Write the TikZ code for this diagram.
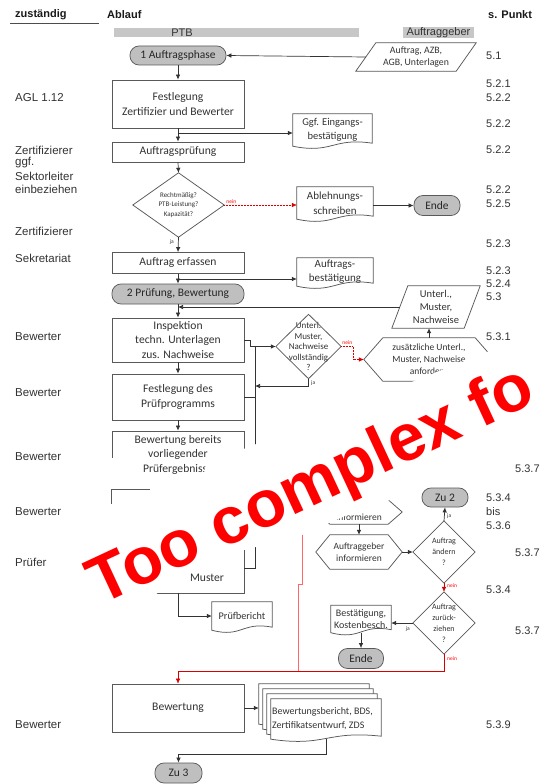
\documentclass[tikz,border=0pt]{standalone}
\usepackage{fontspec}
\setmainfont{Carlito}
\newfontfamily\arialf{Liberation Sans}
\usetikzlibrary{arrows.meta,calc}
\newcommand\fsz[2]{\fontsize{#1}{#2}\selectfont}
\newcommand\docshape[2][]{\draw[shpo,#1] (#2.south west) -- (#2.north west) -- (#2.north east) -- ([yshift=3pt]#2.south east) .. controls ([yshift=9pt]#2.south) and ([yshift=-8pt]#2.south) .. (#2.south west) -- cycle;}
\newcommand\paral[2]{\draw[shpo] (#1.south west) -- ([xshift=-#2]#1.south east) -- (#1.north east) -- ([xshift=#2]#1.north west) -- cycle;}
\newcommand\hexa[2]{\draw[shpo] (#1.north west) -- (#1.north east) -- ([xshift=#2]#1.east) -- (#1.south east) -- (#1.south west) -- ([xshift=-#2]#1.west) -- cycle;}
\newcommand\diam[1]{\draw[shpo] (#1.north) -- (#1.east) -- (#1.south) -- (#1.west) -- cycle;}
\tikzset{
 shpo/.style={draw=black!65, line width=0.75pt},
 boxn/.style={draw=black!65, line width=0.75pt, rectangle, minimum width=132pt, align=center, inner sep=1pt, font=\fsz{11.6}{14.5}, text=black!80},
 body/.style={rectangle, draw=none, align=center, inner sep=0pt, text=black!80},
 term/.style={draw=black!65, line width=0.75pt, fill=black!25, rounded corners=9pt, inner sep=0pt, font=\fsz{11.5}{13}, text=black!85},
 ln/.style={draw=black!80, line width=0.7pt},
 arr/.style={ln, -{Latex[length=5pt,width=4.5pt]}},
 redarr/.style={draw=red!85!black, line width=0.5pt, densely dotted, -{Latex[length=5pt,width=4.5pt]}},
 redsol/.style={draw=red!85!black, line width=0.5pt, -{Latex[length=5pt,width=4.5pt]}},
 redln/.style={draw=red!60, line width=0.5pt},
 lbl/.style={anchor=west, font=\arialf\fsz{11.5}{13}, text=black!80, inner sep=0pt},
 numl/.style={anchor=west, font=\arialf\fsz{11}{13}, text=black!80, inner sep=0pt},
 hdr/.style={anchor=west, font=\arialf\bfseries\fsz{11}{13}, text=black!90, inner sep=0pt},
 bar/.style={fill=black!22, minimum height=9.5pt, inner sep=0pt, draw=none},
 tiny/.style={font=\fsz{5.5}{6}, inner sep=0pt, text=black!80},
 tinyr/.style={font=\fsz{5.5}{6}, inner sep=0pt, text=red},
}
\begin{document}
\begin{tikzpicture}[x=1pt,y=-1pt]
\useasboundingbox (0,0) rectangle (540,784);
\fill[white] (0,0) rectangle (540,784);

% header
\node[hdr] (hz) at (15,15) {zuständig};
\draw[line width=0.6pt, black!70] (10,23) -- (99,23);
\node[hdr] (ha) at (107,15) {Ablauf};
\node[hdr] (hs) at (488,15) {s. Punkt};
\node[bar, minimum width=245pt] (ptbbar) at (236.5,32.5) {};
\node[numl, anchor=center] (ptbt) at (182,32.5) {PTB};
\node[numl, bar, anchor=center, minimum width=71pt] (agbar) at (438.5,32.5) {Auftraggeber};

% left labels
\node[lbl] (l1) at (15,98) {AGL 1.12};
\node[lbl] (l2) at (15,150) {Zertifizierer};
\node[lbl] (l3) at (15,163) {ggf.};
\node[lbl] (l4) at (15,176) {Sektorleiter};
\node[lbl] (l5) at (15,189) {einbeziehen};
\node[lbl] (l6) at (15,231) {Zertifizierer};
\node[lbl] (l7) at (15,258) {Sekretariat};
\node[lbl] (l8) at (15,337) {Bewerter};
\node[lbl] (l9) at (15,393) {Bewerter};
\node[lbl] (l10) at (15,457) {Bewerter};
\node[lbl] (l11) at (15,512) {Bewerter};
\node[lbl] (l12) at (15,562) {Prüfer};
\node[lbl] (l13) at (15,725) {Bewerter};

% right labels
\node[numl] (r1) at (486,56) {5.1};
\node[numl] (r2) at (486,84) {5.2.1};
\node[numl] (r3) at (486,98) {5.2.2};
\node[numl] (r4) at (486,124) {5.2.2};
\node[numl] (r5) at (486,150) {5.2.2};
\node[numl] (r6) at (486,190) {5.2.2};
\node[numl] (r7) at (486,204) {5.2.5};
\node[numl] (r8) at (486,244) {5.2.3};
\node[numl] (r9) at (486,271) {5.2.3};
\node[numl] (r10) at (486,284) {5.2.4};
\node[numl] (r11) at (486,297) {5.3};
\node[numl] (r12) at (486,337) {5.3.1};
\node[numl] (r13) at (515,469) {5.3.7};
\node[numl] (r14) at (486,498) {5.3.4};
\node[numl] (r15) at (486,512) {bis};
\node[numl] (r16) at (486,526) {5.3.6};
\node[numl] (r17) at (515,553) {5.3.7};
\node[numl] (r18) at (486,590) {5.3.4};
\node[numl] (r19) at (515,631) {5.3.7};
\node[numl] (r20) at (486,725) {5.3.9};

% flow nodes
\node[term, minimum width=96pt, minimum height=19pt] (t1) at (178,55.5) {1 Auftragsphase};
\node[body, minimum width=120pt, minimum height=28pt, font=\fsz{9.8}{11.5}] (p1) at (416,57) {Auftrag, AZB,\\AGB, Unterlagen};
\paral{p1}{20pt}
\node[boxn, minimum height=48pt] (b1) at (178,104) {Festlegung\\Zertifizier und Bewerter};
\node[body, minimum width=79pt, minimum height=32pt, font=\fsz{10.5}{14}] (g1) at (332.5,130) {Ggf. Eingangs-\\bestätigung};
\docshape{g1}
\node[boxn, minimum height=20pt] (b2) at (178,152) {Auftragsprüfung};
\node[body, minimum width=91pt, minimum height=64pt, font=\fsz{7}{9.5}] (d1) at (178.5,205) {Rechtmäßig?\\PTB-Leistung?\\Kapazität?};
\diam{d1}
\node[body, minimum width=76pt, minimum height=32pt, font=\fsz{11}{15}] (a1) at (335,203) {Ablehnungs-\\schreiben};
\docshape{a1}
\node[term, minimum width=46pt, minimum height=20pt] (e1) at (437,205.5) {Ende};
\node[boxn, minimum height=21pt] (b3) at (178,263) {Auftrag erfassen};
\node[body, minimum width=76pt, minimum height=28pt, font=\fsz{11}{14}] (a2) at (335,272) {Auftrags-\\bestätigung};
\docshape{a2}
\node[term, minimum width=132pt, minimum height=20pt] (t2) at (178,294) {2 Prüfung, Bewertung};
\node[body, minimum width=88pt, minimum height=42pt, font=\fsz{10.5}{13}] (p2) at (436,307) {Unterl.,\\Muster,\\Nachweise};
\paral{p2}{16pt}
\node[boxn, minimum height=44pt] (b4) at (178,340) {Inspektion\\techn. Unterlagen\\zus. Nachweise};
\node[body, minimum width=65pt, minimum height=64pt, font=\fsz{9}{10.5}] (d2) at (308.5,346.5) {Unterl.\\Muster,\\Nachweise\\vollständig\\?};
\diam{d2}
\node[body, minimum width=92pt, minimum height=43pt, font=\fsz{9.5}{12}] (h1) at (429,359.5) {zusätzliche Unterl.,\\Muster, Nachweise\\anfordern};
\hexa{h1}{19pt}
\node[boxn, minimum height=46pt] (b5) at (178,397) {Festlegung des\\Prüfprogramms};
\node[boxn, minimum height=47pt] (b6) at (178,454.5) {Bewertung bereits\\vorliegender\\Prüfergebnisse};
\node[boxn, minimum height=45pt] (b7) at (178,512.5) {};
\node[boxn, minimum height=48pt] (b8) at (178,569) {};
\node[font=\fsz{11.6}{13}, text=black!80, inner sep=0pt] (b8t) at (207,578) {Muster};
\node[body, minimum width=60pt, minimum height=28pt, font=\fsz{10.2}{12}] (pb) at (242,616) {Prüfbericht};
\docshape{pb}
\node[term, minimum width=46pt, minimum height=19pt] (z2) at (445,497.5) {Zu 2};
\node[body, minimum width=58pt, minimum height=24pt] (uh) at (359,512) {};
\hexa{uh}{14pt}
\node[font=\fsz{9.5}{11}, text=black!80, inner sep=0pt] (uht) at (359,517) {informieren};
\node[body, minimum width=58pt, minimum height=34pt, font=\fsz{9.5}{12.5}] (lh) at (359,552) {Auftraggeber\\informieren};
\hexa{lh}{14pt}
\node[body, minimum width=62pt, minimum height=62pt, font=\fsz{8}{11}] (d3) at (444,552) {Auftrag\\ändern\\?};
\diam{d3}
\node[body, minimum width=62pt, minimum height=62pt, font=\fsz{8}{11}] (d4) at (444,623) {Auftrag\\zurück-\\ziehen\\?};
\diam{d4}
\node[body, minimum width=60pt, minimum height=27pt, font=\fsz{10}{12.5}] (bk) at (361,619) {Bestätigung,\\Kostenbesch.};
\docshape{bk}
\node[term, minimum width=45pt, minimum height=20pt] (e2) at (361,658.5) {Ende};
\node[boxn, minimum height=48pt] (b9) at (178,708) {Bewertung};
\node[body, minimum width=110pt, minimum height=40pt] (mdc) at (314,704) {};
\node[body, minimum width=110pt, minimum height=40pt] (mdb) at (318,709) {};
\node[body, minimum width=110pt, minimum height=40pt] (mda) at (322,714) {};
\node[body, minimum width=110pt, minimum height=40pt] (md) at (326,719) {};
\docshape[fill=white]{mdc}
\docshape[fill=white]{mdb}
\docshape[fill=white]{mda}
\docshape[fill=white]{md}
\node[font=\fsz{10}{14}, align=left, text=black!80, inner sep=0pt, anchor=west] (mdt) at (272,719) {Bewertungsbericht, BDS,\\Zertifikatsentwurf, ZDS};
\node[term, minimum width=47pt, minimum height=20pt] (z3) at (178.5,773) {Zu 3};

% connectors
\draw[arr] ([xshift=10pt]p1.west) -- (t1.east);
\draw[arr] (t1.south) -- (b1.north);
\draw[arr] (b1.south) -- (b2.north);
\coordinate (j1) at (178,133);
\draw[arr] (j1) -- (j1 -| g1.west);
\draw[arr] (b2.south) -- (d1.north);
\draw[redarr] (d1.east) -- (d1.east -| a1.west);
\node[tinyr, anchor=south west] (n1) at ([xshift=2pt,yshift=1.5pt]d1.east) {nein};
\draw[arr] (a1.east |- e1.west) -- (e1.west);
\draw[arr] (d1.south) -- (b3.north);
\node[tiny, anchor=east] (y1) at (174,242) {ja};
\draw[arr] (b3.south) -- (t2.north);
\coordinate (j2) at (178,279);
\draw[arr] (j2) -- (j2 -| a2.west);
\draw[arr] (t2.south) -- (b4.north);
\coordinate (j3) at (178,307);
\draw[arr] ([xshift=8pt]p2.west) -- (j3);
\draw[arr] (b4.east) -- (250,340) -- (250,346.5) -- (d2.west);
\coordinate (k1) at (255,568);
\draw[ln] (255,346.5) -- (k1) -- (k1 -| b8.east);
\draw[ln] (b5.east) -- (b5.east -| k1);
\draw[redarr] (d2.east) -- (353,346.5) -- (353,359.5) -- ([xshift=-19pt]h1.west);
\node[tinyr, anchor=south west] (n2) at ([xshift=1pt,yshift=1.5pt]d2.east) {nein};
\draw[arr] (h1.north) -- (h1.north |- p2.south);
\coordinate (k2) at (255,386);
\draw[arr] (d2.south) -- (d2.south |- k2) -- (k2);
\node[tiny, anchor=west] (y2) at (311,383) {ja};
\draw[arr] (b4.south) -- (b5.north);
\draw[arr] (b5.south) -- (b6.north);
\draw[arr] (b6.south) -- (b7.north);
\draw[arr] (b7.south) -- (b8.north);
\draw[arr] (b8.south) -- (b8.south |- pb.west) -- (pb.west);
\draw[arr] (uh.south) -- (lh.north);
\draw[arr] ([xshift=14pt]lh.east) -- (d3.west);
\draw[arr] (d3.north) -- (z2.south);
\node[tiny, anchor=west] (y3) at (447,516) {ja};
\draw[redsol] (d3.south) -- (d4.north);
\node[tinyr, anchor=west] (n3) at (447,585.5) {nein};
\draw[arr] (d4.west) -- (d4.west -| bk.east);
\node[tiny, anchor=east] (y4) at (410,629) {ja};
\draw[arr] (bk.south) -- (e2.north);
\coordinate (k3) at (444,671);
\coordinate (k4) at (178,671);
\draw[redsol] (d4.south) -- (k3) -- (k4) -- (b9.north);
\node[tinyr, anchor=west] (n4) at (447,659) {nein};
\draw[redln] (302,530) -- (302,584) -- (298,584) -- (298,671);
\draw[arr] (b9.east) -- (b9.east -| mdc.west);
\coordinate (k5) at (326,754);
\draw[arr] (md.south) -- (k5) -- (k5 -| z3.north) -- (z3.north);

% overlay stamp
\begin{scope}
\clip (0,0) rectangle (540,784);
\fill[white] (86,458) -- (141,458) -- (143,477.5) -- (203,477.5) -- (206,464) -- (487,352) -- (540,330) -- (540,440) -- (422,487) -- (390,500) -- (345,516) -- (302,535) -- (244,550) -- (190,570) -- (152,597) -- (110,614) -- (82,608) -- cycle;
\draw[shpo] ([yshift=-14pt]b7.north west) -- (b7.north west) -- ([xshift=38pt]b7.north west);
\node[rotate=25, anchor=base west, text=red, font=\arialf\bfseries\fsz{66}{66}, inner sep=0pt] (wm) at (100,606) {Too complex fo};
\end{scope}
\end{tikzpicture}
\end{document}
